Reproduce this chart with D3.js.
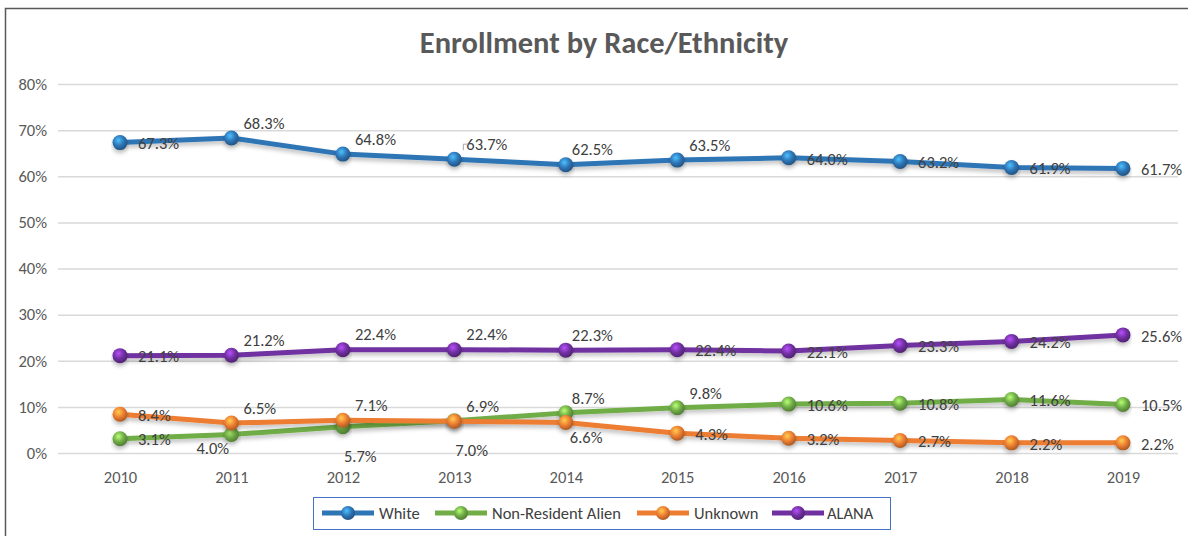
<!DOCTYPE html>
<html>
<head>
<meta charset="utf-8">
<script src="https://cdn.jsdelivr.net/npm/d3@7"></script>
<style>
  body { margin: 0; background: #fff; }
  text { font-family: Carlito, Lato, "Open Sans", sans-serif; }
</style>
</head>
<body>
<div id="chart-area"></div>
<script>
// data
var years = ["2010", "2011", "2012", "2013", "2014", "2015", "2016", "2017", "2018", "2019"];
var seriesNames = ["White", "Non-Resident Alien", "Unknown", "ALANA"];
var white = [67.3, 68.3, 64.8, 63.7, 62.5, 63.5, 64.0, 63.2, 61.9, 61.7];
var nonResident = [3.1, 4.0, 5.7, 7.0, 8.7, 9.8, 10.6, 10.8, 11.6, 10.5];
var unknown = [8.4, 6.5, 7.1, 6.9, 6.6, 4.3, 3.2, 2.7, 2.2, 2.2];
var alana = [21.1, 21.2, 22.4, 22.4, 22.3, 22.4, 22.1, 23.3, 24.2, 25.6];
var yTicks = [0, 10, 20, 30, 40, 50, 60, 70, 80];

// where each data label sits relative to its point
var labelPlace = {
  "White": ["r", "ar", "ar", "ar", "a", "ar", "r", "r", "r", "r"],
  "Non-Resident Alien": ["r", "bl", "b", "b", "a", "ar", "r", "r", "r", "r"],
  "Unknown": ["r", "ar", "ar", "ar", "br", "r", "r", "r", "r", "r"],
  "ALANA": ["r", "ar", "ar", "ar", "a", "r", "r", "r", "r", "r"]
};
var placeOffset = {
  r: [18, 1], ar: [12, -15], a: [6, -15], b: [1, 30], bl: [-35, 14], br: [4, 15]
};

var colors = {
  "White": "#2E75B6",
  "Non-Resident Alien": "#70AD47",
  "Unknown": "#ED7D31",
  "ALANA": "#7030A0"
};
var values = {
  "White": white,
  "Non-Resident Alien": nonResident,
  "Unknown": unknown,
  "ALANA": alana
};
var drawOrder = ["White", "ALANA", "Non-Resident Alien", "Unknown"];

var width = 1188, height = 536;
var fs = 16.5;

var svg = d3
  .select("#chart-area")
  .append("svg")
  .attr("width", width)
  .attr("height", height);

var defs = svg.append("defs");
seriesNames.forEach((name, i) => {
  var c = d3.color(colors[name]);
  var g = defs.append("radialGradient")
    .attr("id", "ball" + i)
    .attr("cx", "40%").attr("cy", "35%").attr("r", "65%");
  g.append("stop").attr("offset", "0%").attr("stop-color", c.brighter(1.4));
  g.append("stop").attr("offset", "55%").attr("stop-color", c);
  g.append("stop").attr("offset", "100%").attr("stop-color", c.darker(0.9));
});
var shadow = defs.append("filter").attr("id", "shadow")
  .attr("x", "-10%").attr("y", "-50%").attr("width", "120%").attr("height", "200%");
shadow.append("feDropShadow")
  .attr("dx", 0).attr("dy", 3).attr("stdDeviation", 2)
  .attr("flood-color", "#000").attr("flood-opacity", 0.25);

// outer frame
svg.append("path")
  .attr("d", "M5.5,540 V8.5 H1200")
  .attr("fill", "none")
  .attr("stroke", "#595959")
  .attr("stroke-width", 1.5);

// title
svg.append("text")
  .attr("x", 604)
  .attr("y", 53)
  .attr("text-anchor", "middle")
  .attr("font-size", 30.5)
  .attr("font-weight", "bold")
  .attr("fill", "#595959")
  .text("Enrollment by Race/Ethnicity");

var x = d3.scalePoint().domain(years).range([120, 1123]);
var y = d3.scaleLinear().domain([0, 80]).range([453, 84]);

// gridlines + y axis
var yAxis = svg.append("g")
  .attr("transform", "translate(58,0)")
  .call(d3.axisLeft(y)
    .tickValues(yTicks)
    .tickSize(-1120)
    .tickPadding(11)
    .tickFormat(d => d + "%"));
yAxis.select(".domain").remove();
yAxis.selectAll("line").attr("stroke", "#d9d9d9").attr("stroke-width", 1.5);
yAxis.selectAll("text")
  .attr("font-size", fs)
  .attr("fill", "#595959")
  .style("font-family", "Carlito, Lato, sans-serif");

// x axis labels
var xAxis = svg.append("g")
  .attr("transform", "translate(0,453)")
  .call(d3.axisBottom(x).tickSize(0).tickPadding(18));
xAxis.select(".domain").remove();
xAxis.selectAll("text")
  .attr("font-size", fs)
  .attr("fill", "#595959")
  .style("font-family", "Carlito, Lato, sans-serif");

var line = d3.line()
  .x((d, i) => x(years[i]))
  .y(d => y(d));

drawOrder.forEach(name => {
  var idx = seriesNames.indexOf(name);
  var g = svg.append("g");
  g.append("path")
    .datum(values[name])
    .attr("d", line)
    .attr("fill", "none")
    .attr("stroke", colors[name])
    .attr("stroke-width", 5)
    .attr("stroke-linejoin", "round")
    .attr("filter", "url(#shadow)");
  g.selectAll("circle")
    .data(values[name])
    .enter()
    .append("circle")
    .attr("cx", (d, i) => x(years[i]))
    .attr("cy", d => y(d))
    .attr("r", 7.5)
    .attr("fill", "url(#ball" + idx + ")")
    .attr("filter", "url(#shadow)");
});

// data labels
drawOrder.forEach(name => {
  svg.append("g")
    .selectAll("text")
    .data(values[name])
    .enter()
    .append("text")
    .attr("x", (d, i) => x(years[i]) + placeOffset[labelPlace[name][i]][0])
    .attr("y", (d, i) => y(d) + placeOffset[labelPlace[name][i]][1])
    .attr("dy", "0.35em")
    .attr("font-size", fs)
    .attr("fill", "#404040")
    .text(d => d.toFixed(1) + "%");
});

// leader line for 2013 White label
svg.append("path")
  .attr("d", "M" + (x("2013") + 9) + "," + (y(white[3]) - 9) + " v-6 h5")
  .attr("fill", "none")
  .attr("stroke", "#a6a6a6")
  .attr("stroke-width", 1);

// legend
var legend = svg.append("g");
legend.append("rect")
  .attr("x", 313.5).attr("y", 497.5)
  .attr("width", 577).attr("height", 32)
  .attr("fill", "#fff")
  .attr("stroke", "#4472C4")
  .attr("stroke-width", 1);
var legendX = [322, 435, 637, 772];
seriesNames.forEach((name, i) => {
  var lg = legend.append("g").attr("transform", "translate(" + legendX[i] + ",513)");
  lg.append("line")
    .attr("x1", 0).attr("x2", 52)
    .attr("stroke", colors[name])
    .attr("stroke-width", 5);
  lg.append("circle")
    .attr("cx", 26).attr("r", 7)
    .attr("fill", "url(#ball" + i + ")");
  lg.append("text")
    .attr("x", name === "ALANA" ? 55 : 57)
    .attr("dy", "0.35em")
    .attr("font-size", fs)
    .attr("fill", "#404040")
    .text(name);
});
</script>
</body>
</html>
